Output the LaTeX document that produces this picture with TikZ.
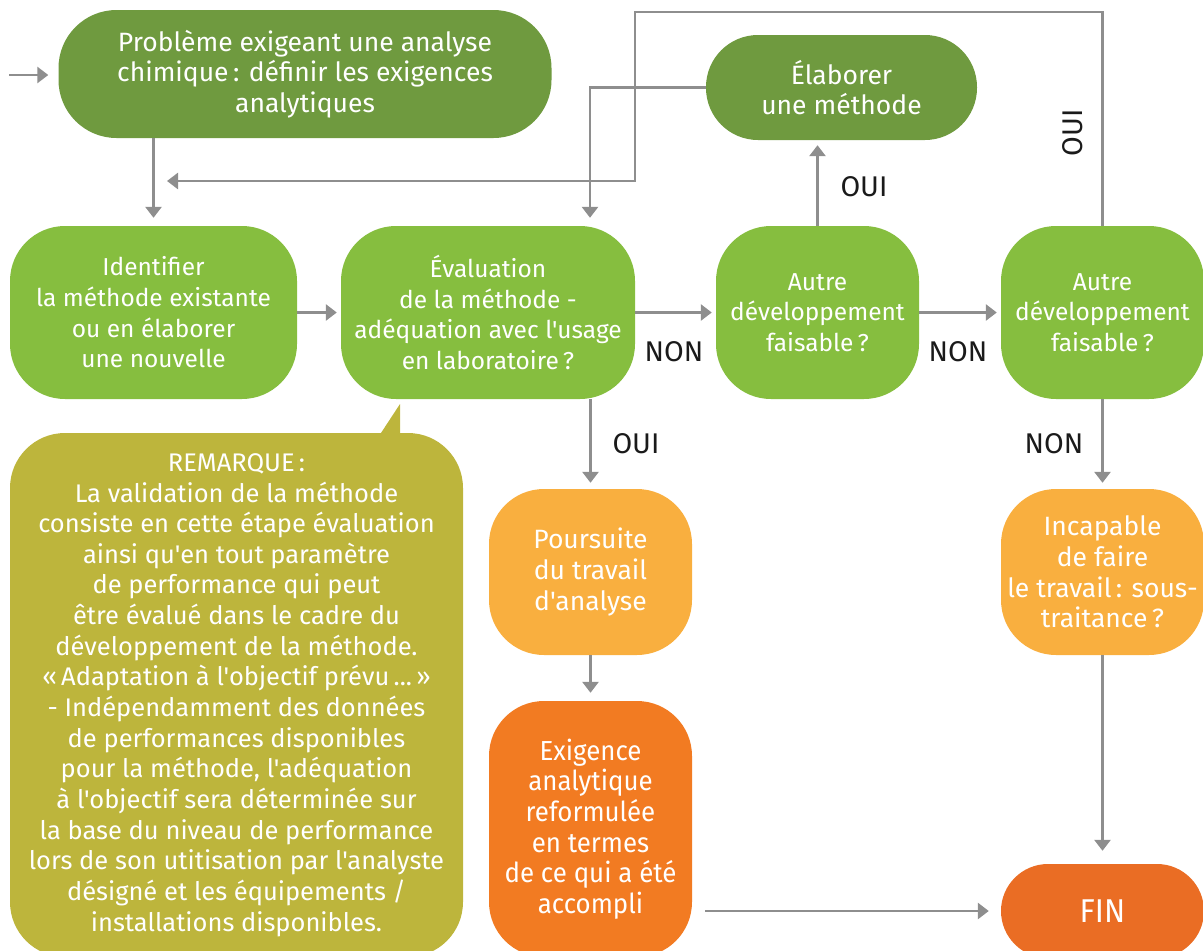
\documentclass[tikz,border=0pt]{standalone}
\usepackage{fontspec}
\newfontfamily\diafont{Fira Sans}
\newfontfamily\condfont{Fira Sans}[FakeStretch=0.94]
\usetikzlibrary{arrows.meta}
\definecolor{dgreen}{HTML}{6F9A3F}
\definecolor{lgreen}{HTML}{86BE3F}
\definecolor{olive}{HTML}{BDB53C}
\definecolor{lorange}{HTML}{F9AF3F}
\definecolor{morange}{HTML}{F27B22}
\definecolor{finorange}{HTML}{EA6D24}
\definecolor{conn}{HTML}{8E8E8E}
\definecolor{lbl}{HTML}{1A1A1A}
\tikzset{
  box/.style={rectangle, rounded corners=55pt, text=white, align=center,
    inner sep=0pt, font=\diafont\fontsize{24.5}{30.7}\selectfont},
  bigbox/.style={box, font=\diafont\fontsize{26.5}{30.7}\selectfont},
  arr/.style={draw=conn, line width=2.7pt,
    -{Triangle[width=16pt,length=11pt]}},
  lab/.style={text=lbl, font=\diafont\fontsize{28.5}{30}\selectfont, inner sep=0pt},
}
\begin{document}
\begin{tikzpicture}[x=1pt,y=-1pt]
\useasboundingbox (0,0) rectangle (1203,951);
\clip (0,0) rectangle (1203,951);

% boxes
\node[bigbox, fill=dgreen, rounded corners=58pt, minimum width=493, minimum height=128]
  (prob) at (305,74) {Problème exigeant une analyse\\chimique\,: définir les exigences\\analytiques};
\node[bigbox, fill=dgreen, rounded corners=52pt, minimum width=271, minimum height=105]
  (elab) at (841.5,87.5) {Élaborer\\une méthode};
\node[box, fill=lgreen, minimum width=287, minimum height=173]
  (ident) at (153.5,312.5) {Identifier\\la méthode existante\\ou en élaborer\\une nouvelle};
\node[box, fill=lgreen, minimum width=294, minimum height=173]
  (eval) at (488,312.5) {Évaluation\\de la méthode -\\adéquation avec l'usage\\en laboratoire\,?};
\node[box, fill=lgreen, minimum width=203, minimum height=173]
  (autre1) at (817.5,312.5) {Autre\\développement\\faisable\,?};
\node[box, fill=lgreen, minimum width=203, minimum height=173]
  (autre2) at (1102.5,312.5) {Autre\\développement\\faisable\,?};
\node[bigbox, fill=lorange, minimum width=203, minimum height=166]
  (pours) at (590.5,572) {Poursuite\\du travail\\d'analyse};
\node[bigbox, fill=lorange, minimum width=203, minimum height=166]
  (incap) at (1102.5,572) {Incapable\\de faire\\le travail\,: sous-\\traitance\,?};
\node[box, fill=morange, minimum width=203, minimum height=256,
  font=\condfont\fontsize{27.5}{30.6}\selectfont]
  (exig) at (590.5,829) {Exigence\\analytique\\reformulée\\en termes\\de ce qui a été\\accompli};
\node[box, fill=finorange, rounded corners=47pt, minimum width=203, minimum height=94,
  font=\condfont\fontsize{33}{34}\selectfont]
  (fin) at (1102.5,911) {FIN};

% note bubble with its pointer
\fill[olive] (379,436) -- (400,404) -- (400,436) -- cycle;
\node[box, fill=olive, minimum width=453, minimum height=524,
  font=\diafont\fontsize{25.5}{30.65}\selectfont]
  (rem) at (236.5,695) {REMARQUE\,:\\La validation de la méthode\\consiste en cette étape évaluation\\ainsi qu'en tout paramètre\\de performance qui peut\\être évalué dans le cadre du\\développement de la méthode.\\«\,Adaptation à l'objectif prévu\,...\,»\\- Indépendamment des données\\de performances disponibles\\pour la méthode, l'adéquation\\à l'objectif sera déterminée sur\\la base du niveau de performance\\lors de son utitisation par l'analyste\\désigné et les équipements /\\installations disponibles.};

% connectors
\coordinate (entry) at (9,75);
\draw[arr, shorten >=10pt] (entry) -- (prob.west |- entry);
\draw[arr, shorten >=8pt] (ident.north |- prob.south) -- (ident.north);
\coordinate (loopcorner) at (635,12);
\coordinate (loopend) at (167,181);
\draw[arr] (autre2.north) |- (loopcorner) |- (loopend);
\draw[arr, shorten >=8pt] (elab.west) -| ([xshift=102pt]eval.north);
\draw[arr, shorten >=5pt] (autre1.north) -- (autre1.north |- elab.south);
\draw[arr, shorten >=4pt] (ident.east) -- (eval.west);
\draw[arr, shorten >=4pt] (eval.east) -- (autre1.west);
\draw[arr, shorten >=4pt] (autre1.east) -- (autre2.west);
\draw[arr, shorten >=6pt] (eval.south -| pours.north) -- (pours.north);
\draw[arr, shorten >=6pt] (autre2.south) -- (incap.north);
\draw[arr, shorten >=8pt] (pours.south) -- (exig.north);
\draw[arr, shorten >=13pt] (incap.south) -- (fin.north);
\draw[arr, shorten <=13pt, shorten >=12pt] (exig.east |- fin.west) -- (fin.west);

% branch labels
\node[lab] (l1) at (674,352) {NON};
\node[lab] (l2) at (958,352) {NON};
\node[lab] (l3) at (864,187) {OUI};
\node[lab] (l4) at (636,444) {OUI};
\node[lab] (l5) at (1054,444) {NON};
\node[lab, rotate=90] (l6) at (1073,133) {OUI};
\end{tikzpicture}
\end{document}
